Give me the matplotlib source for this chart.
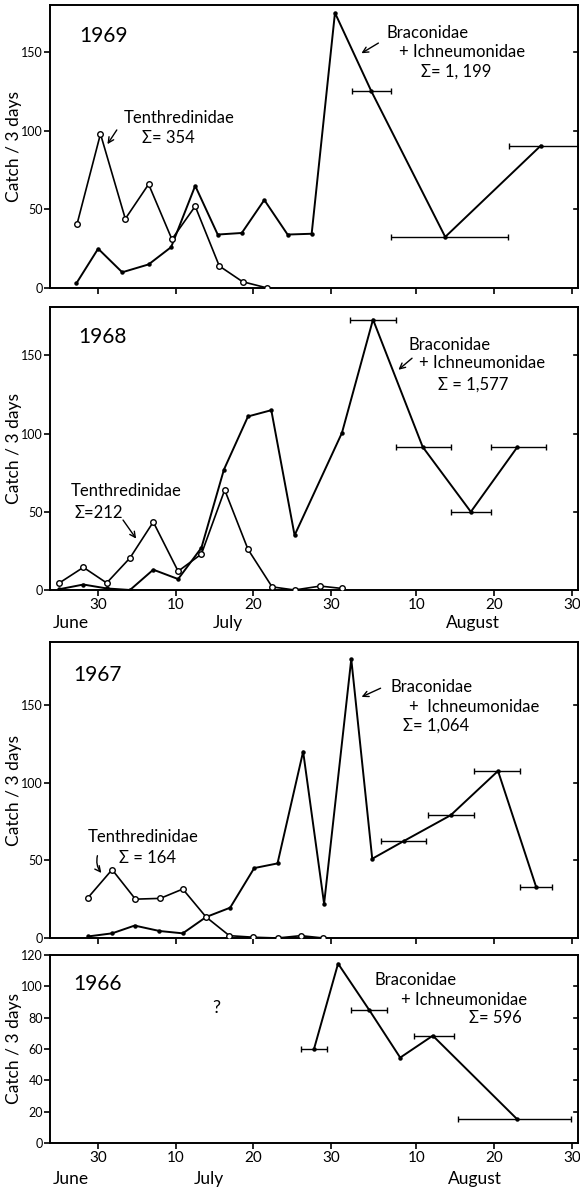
import numpy as np
import matplotlib
matplotlib.use("Agg")
import matplotlib.pyplot as plt

plt.rcParams['font.family'] = ['Lato', 'DejaVu Sans']

# days counted from July 1 (June 30 = 0, Aug 10 = 41, Aug 30 = 61)
tick_days = [0, 10, 20, 30, 41, 51, 61]
tick_labels = ['30', '10', '20', '30', '10', '20', '30']
months = ['June', 'July', 'August']
months_pos_68 = [-3.5, 16.7, 48.2]
months_pos_66 = [-3.5, 14.2, 48.5]

# 1969
tenth_69_x = [-2.7, 0.3, 3.5, 6.5, 9.5, 12.5, 15.6, 18.6, 21.8]
tenth_69_y = [41, 98, 44, 66, 31, 52, 14, 4, 0]
brac_69_x = [-2.8, 0.0, 3.1, 6.5, 9.4, 12.5, 15.4, 18.5, 21.4, 24.4, 27.5, 30.5, 35.2, 44.7, 57.0]
brac_69_y = [3, 25, 10, 15, 26, 65, 34, 35, 56, 34, 34.5, 175, 125, 32.5, 90.5]
span_69_lo = [32.7, 37.7, 52.9]
span_69_hi = [37.7, 52.8, 61.8]

# 1968
tenth_68_x = [-5.0, -1.9, 1.1, 4.1, 7.1, 10.3, 13.3, 16.3, 19.3, 22.4, 25.3, 28.6, 31.4]
tenth_68_y = [4.5, 14.5, 4.5, 20.5, 43.5, 12, 23, 64, 26, 2, 0, 2.5, 1]
brac_68_x = [-5.0, -1.9, 1.1, 4.1, 7.1, 10.3, 13.3, 16.2, 19.3, 22.3, 25.3, 31.4, 35.4, 41.8, 48.0, 54.0]
brac_68_y = [0.5, 3.5, 1, 0, 13, 7, 27, 77, 111, 115, 35, 100.5, 173, 91.5, 50, 91.5]
span_68_lo = [32.4, 38.4, 45.4, 50.6]
span_68_hi = [38.4, 45.4, 50.6, 57.7]

# 1967
tenth_67_x = [-1.3, 1.8, 4.8, 8.0, 10.9, 13.9, 16.9, 20.0, 23.1, 26.1, 29.0]
tenth_67_y = [26, 44, 25, 25.5, 31.5, 13.5, 1.5, 0.5, 0, 1.5, 0]
brac_67_x = [-1.3, 1.8, 4.7, 7.9, 10.9, 13.9, 17.0, 20.1, 23.1, 26.4, 29.1, 32.6, 35.3, 39.4, 45.4, 51.5, 56.4]
brac_67_y = [1, 3, 8, 4.5, 3, 13.5, 19.5, 45, 48, 120, 22, 179.5, 51, 62.5, 79, 107.5, 33]
span_67_lo = [36.4, 42.5, 48.4, 54.3]
span_67_hi = [42.2, 48.4, 54.3, 58.4]

# 1966 (no sawfly data)
brac_66_x = [27.8, 30.9, 34.9, 38.9, 43.1, 53.9]
brac_66_y = [60, 114.5, 85, 54.5, 68.5, 15.5]
span_66_idx = [0, 2, 4, 5]
span_66_lo = [26.1, 32.6, 40.7, 46.3]
span_66_hi = [29.5, 37.2, 45.8, 60.9]

W, H = 580, 1188
fig = plt.figure(figsize=(W / 100, H / 100), dpi=100)

FS = 12


def make_axes(top_px, bottom_px, ymax, yticks, show_labels):
    ax = fig.add_axes([50 / W, 1 - bottom_px / H, 528 / W, (bottom_px - top_px) / H])
    ax.set_xlim(-6.2, 61.8)
    ax.set_ylim(0, ymax)
    ax.set_yticks(yticks)
    ax.set_yticklabels([str(t) for t in yticks], fontsize=9)
    ax.set_xticks(tick_days)
    if show_labels:
        ax.set_xticklabels(tick_labels, fontsize=11)
    else:
        ax.set_xticklabels([])
    ax.tick_params(axis='x', direction='out', length=4, width=1.2, pad=2)
    ax.tick_params(axis='y', direction='out', length=4, width=1.2, pad=1)
    for s in ax.spines.values():
        s.set_linewidth(1.4)
    ax.set_ylabel('Catch / 3 days', fontsize=12.5)
    ax.yaxis.set_label_coords(-0.069, 0.5)
    ax.yaxis.label.set_va('center')
    return ax


def draw_right_ticks(ax, yticks):
    for t in yticks[1:]:
        ax.plot([61.3, 61.8], [t, t], color='k', lw=1.2, clip_on=False)


def draw_series(ax, x, y, open_marker):
    if open_marker:
        ax.plot(x, y, '-o', color='k', lw=1.2, ms=4.0, mfc='white', mew=1.0, zorder=3)
    else:
        ax.plot(x, y, '-o', color='k', lw=1.4, ms=2.2, zorder=2)


def draw_spans(ax, x, y, lo, hi):
    x = np.array(x)
    y = np.array(y)
    err = [x - np.array(lo), np.array(hi) - x]
    ax.errorbar(x, y, xerr=err, fmt='none', ecolor='k', elinewidth=1.0, capsize=2.5, capthick=1.0)


def months_row(ax, pos, dy):
    for name, p in zip(months, pos):
        ax.annotate(name, xy=(p, 0), xycoords=('data', 'axes fraction'),
                    xytext=(0, dy), textcoords='offset points',
                    ha='center', va='center', fontsize=12.5)


def arrow(ax, start, end, rad=0.0):
    ax.annotate('', xy=end, xytext=start,
                arrowprops=dict(arrowstyle='->', color='k', lw=1.0,
                                connectionstyle='arc3,rad=%s' % rad))


yt = [0, 50, 100, 150]

# 1969
ax = make_axes(5, 288, 180, yt, False)
draw_right_ticks(ax, yt)
draw_series(ax, brac_69_x, brac_69_y, False)
draw_series(ax, tenth_69_x, tenth_69_y, True)
draw_spans(ax, brac_69_x[-3:], brac_69_y[-3:], span_69_lo, span_69_hi)
ax.text(-2.45, 160, '1969', fontsize=15, va='center')
ax.text(10.4, 108, 'Tenthredinidae', fontsize=FS, ha='center', va='center')
ax.text(9.0, 95.5, 'Σ= 354', fontsize=FS, ha='center', va='center')
arrow(ax, (2.6, 102), (1.0, 90))
ax.text(37.1, 162, 'Braconidae', fontsize=FS, va='center')
ax.text(38.7, 150, '+ Ichneumonidae', fontsize=FS, va='center')
ax.text(41.6, 137.6, 'Σ= 1, 199', fontsize=FS, va='center')
arrow(ax, (36.4, 156.7), (33.6, 148.4))

# 1968
ax = make_axes(307, 590, 181, yt, True)
draw_right_ticks(ax, yt)
draw_series(ax, brac_68_x, brac_68_y, False)
draw_series(ax, tenth_68_x, tenth_68_y, True)
draw_spans(ax, brac_68_x[-4:], brac_68_y[-4:], span_68_lo, span_68_hi)
months_row(ax, months_pos_68, -24)
ax.text(-2.6, 161.5, '1968', fontsize=15, va='center')
ax.text(-3.5, 63, 'Tenthredinidae', fontsize=FS, va='center')
ax.text(-3.1, 49.4, 'Σ=212', fontsize=FS, va='center')
arrow(ax, (3.0, 46.2), (5.1, 31.4))
ax.text(40.0, 156.4, 'Braconidae', fontsize=FS, va='center')
ax.text(41.3, 145, '+ Ichneumonidae', fontsize=FS, va='center')
ax.text(43.8, 131.4, 'Σ = 1,577', fontsize=FS, va='center')
arrow(ax, (40.7, 149.4), (38.4, 139.7))

# 1967
ax = make_axes(642, 938, 190.5, yt, False)
draw_right_ticks(ax, yt)
draw_series(ax, brac_67_x, brac_67_y, False)
draw_series(ax, tenth_67_x, tenth_67_y, True)
draw_spans(ax, brac_67_x[-4:], brac_67_y[-4:], span_67_lo, span_67_hi)
ax.text(-3.2, 169, '1967', fontsize=15, va='center')
ax.text(-1.3, 65, 'Tenthredinidae', fontsize=FS, va='center')
ax.text(2.7, 51.5, 'Σ = 164', fontsize=FS, va='center')
arrow(ax, (0.0, 54.7), (0.65, 40.5), rad=0.3)
ax.text(37.7, 161.5, 'Braconidae', fontsize=FS, va='center')
ax.text(40.0, 148.6, '+  Ichneumonidae', fontsize=FS, va='center')
ax.text(39.2, 136.4, 'Σ= 1,064', fontsize=FS, va='center')
arrow(ax, (36.7, 161.5), (33.6, 154.4))

# 1966
yt66 = [0, 20, 40, 60, 80, 100, 120]
ax = make_axes(955, 1143, 120, yt66, True)
draw_right_ticks(ax, yt66[:-1])
draw_series(ax, brac_66_x, brac_66_y, False)
draw_spans(ax, [brac_66_x[i] for i in span_66_idx], [brac_66_y[i] for i in span_66_idx],
           span_66_lo, span_66_hi)
months_row(ax, months_pos_66, -26)
ax.text(-3.2, 101.6, '1966', fontsize=15, va='center')
ax.text(15.2, 86, '?', fontsize=13, ha='center', va='center')
ax.text(35.6, 104, 'Braconidae', fontsize=FS, va='center')
ax.text(39.0, 91.4, '+ Ichneumonidae', fontsize=FS, va='center')
ax.text(47.7, 80, 'Σ= 596', fontsize=FS, va='center')

fig.savefig('out.png', dpi=100)
